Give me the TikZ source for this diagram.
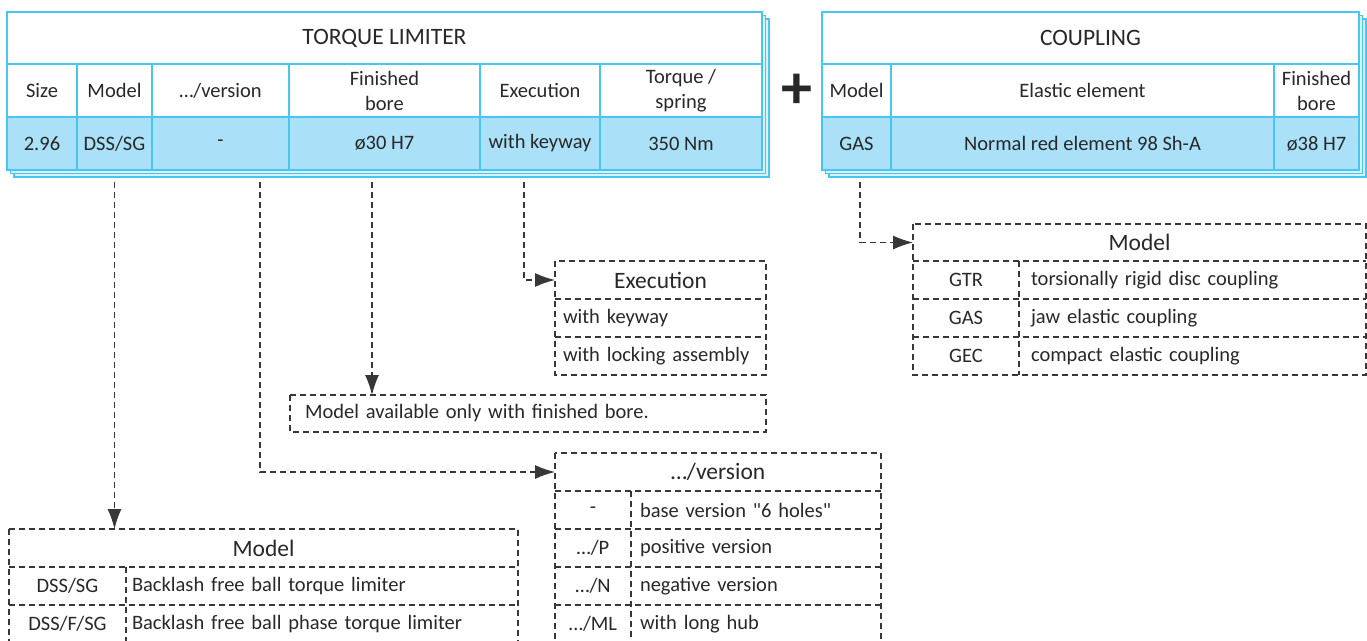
\documentclass[tikz,border=0pt]{standalone}
\usepackage{fontspec}
\setmainfont{Carlito}[Ligatures=TeXOff]
\usepackage{tikz}
\usetikzlibrary{arrows.meta}

\definecolor{limcyan}{RGB}{70,198,240}
\definecolor{limfill}{RGB}{170,224,248}
\definecolor{txtgray}{RGB}{40,40,40}
\definecolor{dashgray}{RGB}{55,55,55}
\newcommand{\bodyfont}{\fontsize{20.5}{25}\selectfont}
\newcommand{\headfont}{\fontsize{23.5}{28}\selectfont}

\tikzset{
  topcell/.style={draw=limcyan, line width=1.8pt, inner sep=0pt, outer sep=0pt, align=center, font=\bodyfont, text=txtgray},
  headcell/.style={topcell, fill=white, minimum height=53pt},
  valcell/.style={topcell, fill=limfill, minimum height=53pt},
  backlayer/.style={draw=limcyan, line width=1.5pt, fill=limfill!45},
  optcell/.style={inner sep=0pt, outer sep=0pt, minimum height=38pt, font=\bodyfont, text=txtgray},
  opttitle/.style={optcell, font=\headfont},
  optrow/.style={optcell, align=left},
  optline/.style={draw=dashgray, line width=1.3pt, dash pattern=on 6pt off 4pt},
  optarrow/.style={optline, -{Latex[length=20pt,width=14pt]}}
}

\begin{document}
\begin{tikzpicture}[x=1pt, y=-1pt]
\useasboundingbox (0,0) rectangle (1367,640);

% 叠放的底层
\draw[backlayer] (14,19) rectangle (769,177);
\draw[backlayer] (10.5,15.5) rectangle (765.5,173.5);
\draw[backlayer] (829,19) rectangle (1366,177);
\draw[backlayer] (825.5,15.5) rectangle (1362.5,173.5);

% TORQUE LIMITER 表
\node[headcell, minimum width=755pt, minimum height=52pt, font=\headfont] (tlTitle) at (384.5,38) {TORQUE LIMITER};
\node[headcell, minimum width=70pt] (tlSize) at (42,90.5) {Size};
\node[headcell, minimum width=75pt] (tlModel) at (114.5,90.5) {Model};
\node[headcell, minimum width=137pt] (tlVer) at (220.5,90.5) {…/version};
\node[headcell, minimum width=191pt] (tlBore) at (384.5,90.5) {Finished\\bore};
\node[headcell, minimum width=120pt] (tlExec) at (540,90.5) {Execution};
\node[headcell, minimum width=162pt] (tlTorque) at (681,90.5) {Torque /\\spring};
\node[valcell, minimum width=70pt] (tlSizeV) at (42,143.5) {2.96};
\node[valcell, minimum width=75pt] (tlModelV) at (114.5,143.5) {DSS/SG};
\node[valcell, minimum width=137pt] (tlVerV) at (220.5,143.5) {-};
\node[valcell, minimum width=191pt] (tlBoreV) at (384.5,143.5) {ø30 H7};
\node[valcell, minimum width=120pt] (tlExecV) at (540,143.5) {with keyway};
\node[valcell, minimum width=162pt] (tlTorqueV) at (681,143.5) {350 Nm};

% 加号
\node[font=\fontsize{62}{62}\selectfont\bfseries, text=txtgray, inner sep=0pt] (plus) at (797,91) {+};

% COUPLING 表
\node[headcell, minimum width=537pt, minimum height=52pt, font=\headfont] (cpTitle) at (1090.5,38) {COUPLING};
\node[headcell, minimum width=69pt] (cpModel) at (856.5,90.5) {Model};
\node[headcell, minimum width=383pt] (cpElastic) at (1082.5,90.5) {Elastic element};
\node[headcell, minimum width=85pt] (cpBore) at (1316.5,90.5) {Finished\\bore};
\node[valcell, minimum width=69pt] (cpModelV) at (856.5,143.5) {GAS};
\node[valcell, minimum width=383pt] (cpElasticV) at (1082.5,143.5) {Normal red element 98 Sh-A};
\node[valcell, minimum width=85pt] (cpBoreV) at (1316.5,143.5) {ø38 H7};

% Execution 框
\node[opttitle, minimum width=211pt] (exTitle) at (660.5,280) {Execution};
\node[optrow, text width=195pt, inner xsep=8pt] (exKey) at (660.5,318) {with keyway};
\node[optrow, text width=195pt, inner xsep=8pt] (exLock) at (660.5,356) {with locking assembly};
\draw[optline] (exTitle.north west) rectangle (exLock.south east);
\draw[optline] (exKey.north west) -- (exKey.north east);
\draw[optline] (exLock.north west) -- (exLock.north east);

% 说明框
\node[optrow, text width=446pt, inner xsep=15pt, minimum height=37pt] (note) at (528,413.5) {Model available only with finished bore.};
\draw[optline] (note.north west) rectangle (note.south east);

% COUPLING 的 Model 框
\node[opttitle, minimum width=453pt, minimum height=37pt] (cmTitle) at (1139.5,242.5) {Model};
\node[optcell, minimum width=106pt] (cmGtr) at (966,280) {GTR};
\node[optrow, text width=323pt, inner xsep=12pt] (cmGtrT) at (1192.5,280) {torsionally rigid disc coupling};
\node[optcell, minimum width=106pt] (cmGas) at (966,318) {GAS};
\node[optrow, text width=323pt, inner xsep=12pt] (cmGasT) at (1192.5,318) {jaw elastic coupling};
\node[optcell, minimum width=106pt] (cmGec) at (966,356) {GEC};
\node[optrow, text width=323pt, inner xsep=12pt] (cmGecT) at (1192.5,356) {compact elastic coupling};
\draw[optline] (cmTitle.north west) rectangle (cmGecT.south east);
\draw[optline] (cmGtr.north west) -- (cmGtrT.north east);
\draw[optline] (cmGas.north west) -- (cmGasT.north east);
\draw[optline] (cmGec.north west) -- (cmGecT.north east);
\draw[optline] (cmGtr.north east) -- (cmGec.south east);

% …/version 框
\node[opttitle, minimum width=326pt] (verTitle) at (718,472) {…/version};
\node[optcell, minimum width=76pt] (verBase) at (593,510) {-};
\node[optrow, text width=232pt, inner xsep=9pt] (verBaseT) at (756,510) {base version "6 holes"};
\node[optcell, minimum width=76pt] (verP) at (593,548) {…/P};
\node[optrow, text width=232pt, inner xsep=9pt] (verPT) at (756,548) {positive version};
\node[optcell, minimum width=76pt] (verN) at (593,586) {…/N};
\node[optrow, text width=232pt, inner xsep=9pt] (verNT) at (756,586) {negative version};
\node[optcell, minimum width=76pt] (verML) at (593,624) {…/ML};
\node[optrow, text width=232pt, inner xsep=9pt] (verMLT) at (756,624) {with long hub};
\draw[optline] (verTitle.north west) rectangle (verMLT.south east);
\draw[optline] (verBase.north west) -- (verBaseT.north east);
\draw[optline] (verP.north west) -- (verPT.north east);
\draw[optline] (verN.north west) -- (verNT.north east);
\draw[optline] (verML.north west) -- (verMLT.north east);
\draw[optline] (verBase.north east) -- (verML.south east);

% TORQUE LIMITER 的 Model 框
\node[opttitle, minimum width=509pt] (tmTitle) at (263.5,548) {Model};
\node[optcell, minimum width=117pt] (tmSg) at (67.5,586) {DSS/SG};
\node[optrow, text width=380pt, inner xsep=6pt] (tmSgT) at (322,586) {Backlash free ball torque limiter};
\node[optcell, minimum width=117pt] (tmFsg) at (67.5,624) {DSS/F/SG};
\node[optrow, text width=380pt, inner xsep=6pt] (tmFsgT) at (322,624) {Backlash free ball phase torque limiter};
\draw[optline] (tmTitle.north west) rectangle (tmFsgT.south east);
\draw[optline] (tmSg.north west) -- (tmSgT.north east);
\draw[optline] (tmFsg.north west) -- (tmFsgT.north east);
\draw[optline] (tmSg.north east) -- (tmFsg.south east);

% 箭头
\draw[optarrow] ([yshift=-12pt]tlModelV.south) -- (tlModelV.south |- tmTitle.north);
\draw[optarrow] ([xshift=39.5pt,yshift=-12pt]tlVerV.south) |- (verTitle.west);
\draw[optarrow] ([xshift=-12.5pt,yshift=-12pt]tlBoreV.south) -- ([xshift=-12.5pt]tlBoreV.south |- note.north);
\draw[optarrow] ([xshift=-16pt,yshift=-12pt]tlExecV.south) |- (exTitle.west);
\draw[optarrow] ([xshift=3.5pt,yshift=-12pt]cpModelV.south) |- (cmTitle.west);
\end{tikzpicture}
\end{document}
